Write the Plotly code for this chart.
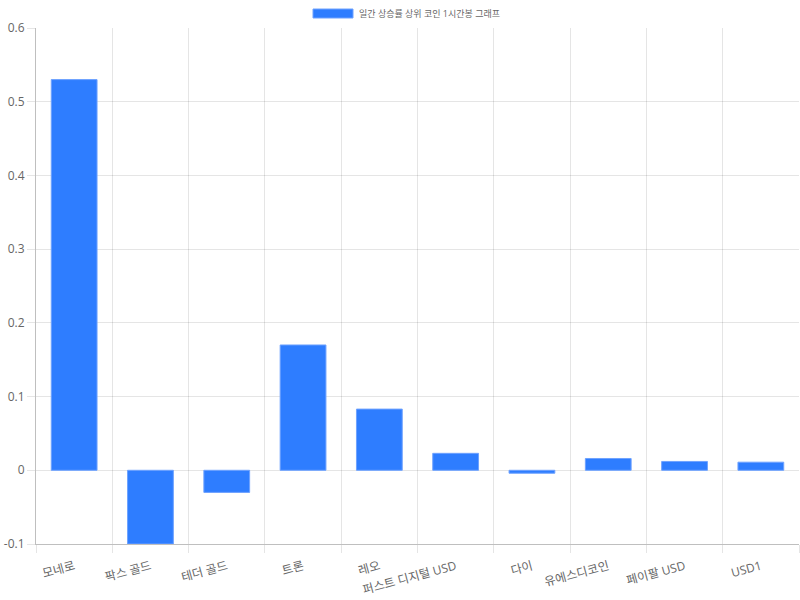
import plotly.graph_objects as go

categories = ["모네로", "팍스 골드", "테더 골드", "트론", "레오", "퍼스트 디지털 USD", "다이", "유에스디코인", "페이팔 USD", "USD1"]
values = [0.530, -0.100, -0.030, 0.170, 0.083, 0.023, -0.004, 0.016, 0.012, 0.011]
series_name = "일간 상승률 상위 코인 1시간봉 그래프"
y_ticks = [-0.1, 0, 0.1, 0.2, 0.3, 0.4, 0.5, 0.6]
y_tick_labels = ["-0.1", "0", "0.1", "0.2", "0.3", "0.4", "0.5", "0.6"]

font_family = "Open Sans, Noto Sans CJK KR, sans-serif"
fill = "#2e7dff"
edge = "#6ea2ff"

L, T, PW, PH = 36, 28, 763, 516

fig = go.Figure()
fig.add_trace(go.Bar(
    x=categories, y=values, name=series_name,
    marker=dict(color=fill, line=dict(color=edge, width=1)),
    width=0.6, showlegend=False,
))

fig.update_layout(
    width=800, height=600,
    margin=dict(l=L, r=800 - L - PW, t=T, b=600 - T - PH, autoexpand=False),
    paper_bgcolor="white", plot_bgcolor="white",
    font=dict(family=font_family, color="#666", size=12),
    xaxis=dict(
        type="category", tickson="boundaries", ticks="outside", ticklen=8,
        tickcolor="rgba(0,0,0,0.1)", gridcolor="rgba(0,0,0,0.1)",
        showline=True, linecolor="rgba(0,0,0,0.25)", tickangle=-15,
        tickfont=dict(size=12, color="#666"), automargin=False,
        ticklabelstandoff=10,
    ),
    yaxis=dict(
        range=[-0.1, 0.6], tickvals=y_ticks, ticktext=y_tick_labels,
        ticks="outside", ticklen=8, tickcolor="rgba(0,0,0,0.1)",
        gridcolor="rgba(0,0,0,0.1)", zeroline=False,
        showline=True, linecolor="rgba(0,0,0,0.25)",
        tickfont=dict(size=12, color="#666"), automargin=False,
    ),
    shapes=[dict(type="rect", xref="paper", yref="paper",
                 x0=(313 - L) / PW, x1=(353 - L) / PW,
                 y0=(T + PH - 18) / PH, y1=(T + PH - 9) / PH,
                 fillcolor=fill, line=dict(color=edge, width=1))],
    annotations=[dict(text=series_name, xref="paper", yref="paper",
                      x=(357 - L) / PW, y=(T + PH - 13.5) / PH,
                      xanchor="left", yanchor="middle", showarrow=False,
                      font=dict(size=9, color="#666"))],
)

fig.write_html(
    "out.html",
    config={"displayModeBar": False},
    post_script="document.body.style.margin='0';document.body.style.overflow='hidden';",
)
